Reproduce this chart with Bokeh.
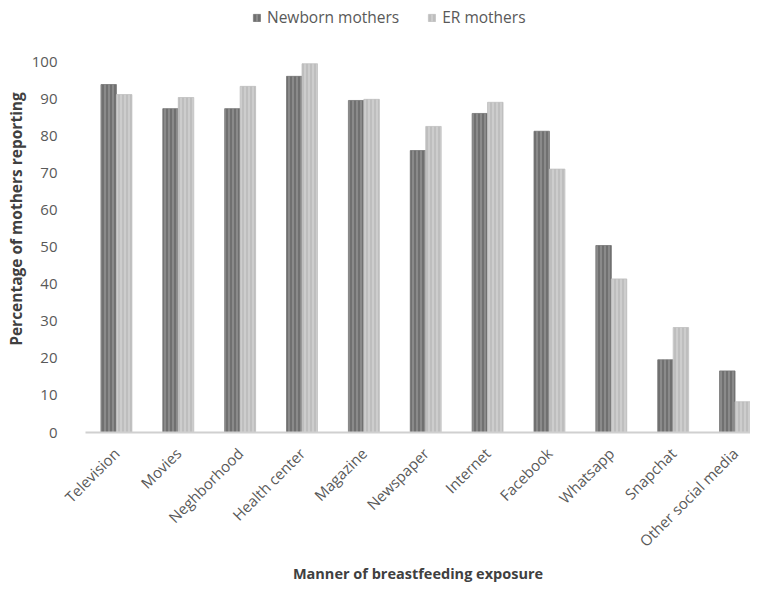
import math
from bokeh.plotting import figure
from bokeh.models import ColumnDataSource, Range1d, Legend, LegendItem
from bokeh.transform import dodge
from bokeh.embed import file_html
from bokeh.resources import INLINE

categories = ["Television", "Movies", "Neghborhood", "Health center", "Magazine",
              "Newspaper", "Internet", "Facebook", "Whatsapp", "Snapchat",
              "Other social media"]
newborn = [93.8, 87.3, 87.3, 96.0, 89.5, 76.0, 86.0, 81.2, 50.4, 19.6, 16.6]
er = [91.1, 90.3, 93.3, 99.4, 89.8, 82.5, 89.0, 71.0, 41.4, 28.3, 8.3]
y_ticks = [0, 10, 20, 30, 40, 50, 60, 70, 80, 90, 100]

idx = list(range(len(categories)))
src = ColumnDataSource(dict(idx=idx, newborn=newborn, er=er))

FONT = "Open Sans"

p = figure(width=750, height=585, output_backend="svg", toolbar_location=None,
           x_range=Range1d(-0.5, 10.25), y_range=Range1d(0, 115.1),
           min_border_left=85, min_border_right=0, min_border_top=5,
           min_border_bottom=153)
p.outline_line_color = None
p.grid.visible = False
p.background_fill_color = "white"

r1 = p.vbar(x=dodge("idx", -0.125), top="newborn", width=0.25, source=src,
            fill_color="#8a8a8a", line_color="#777777", line_width=0.8,
            hatch_pattern="vertical_line", hatch_color="#5e5e5e",
            hatch_scale=4, hatch_weight=1.2)
r2 = p.vbar(x=dodge("idx", 0.125), top="er", width=0.25, source=src,
            fill_color="#cdcdcd", line_color="#c0c0c0", line_width=0.8,
            hatch_pattern="vertical_line", hatch_color="#b4b4b4",
            hatch_scale=4, hatch_weight=1.2)

# x axis
p.xaxis.ticker = idx
p.xaxis.major_label_overrides = {i: c for i, c in zip(idx, categories)}
p.xaxis.major_label_orientation = math.pi / 4
p.xaxis.axis_line_color = "#d0d0d0"
p.xaxis.axis_line_width = 2
p.xaxis.major_tick_line_color = None
p.xaxis.minor_tick_line_color = None
p.xaxis.major_label_text_font = FONT
p.xaxis.major_label_text_font_size = "15px"
p.xaxis.major_label_text_color = "#595959"
p.xaxis.major_label_standoff = 12
p.xaxis.axis_label = "Manner of breastfeeding exposure"
p.xaxis.axis_label_text_font = FONT
p.xaxis.axis_label_text_font_style = "bold"
p.xaxis.axis_label_text_font_size = "14.5px"
p.xaxis.axis_label_text_color = "#404040"
p.xaxis.axis_label_standoff = 3

# y axis
p.yaxis.ticker = y_ticks
p.yaxis.axis_line_color = None
p.yaxis.major_tick_line_color = None
p.yaxis.minor_tick_line_color = None
p.yaxis.major_label_text_font = FONT
p.yaxis.major_label_text_font_size = "15px"
p.yaxis.major_label_text_color = "#595959"
p.yaxis.major_label_standoff = 22
p.yaxis.axis_label = "Percentage of mothers reporting"
p.yaxis.axis_label_text_font = FONT
p.yaxis.axis_label_text_font_style = "bold"
p.yaxis.axis_label_text_font_size = "15.5px"
p.yaxis.axis_label_text_color = "#404040"
p.yaxis.axis_label_standoff = 2

legend = Legend(items=[LegendItem(label="Newborn mothers", renderers=[r1]),
                       LegendItem(label="ER mothers", renderers=[r2])],
                orientation="horizontal", location=(167, 404),
                border_line_color=None, background_fill_alpha=0,
                label_text_font=FONT, label_text_font_size="15.5px",
                label_text_color="#595959", glyph_width=9, glyph_height=9,
                spacing=28, label_standoff=6, padding=0, margin=0)
p.add_layout(legend, "center")

open("out.html", "w").write(file_html(p, INLINE))
